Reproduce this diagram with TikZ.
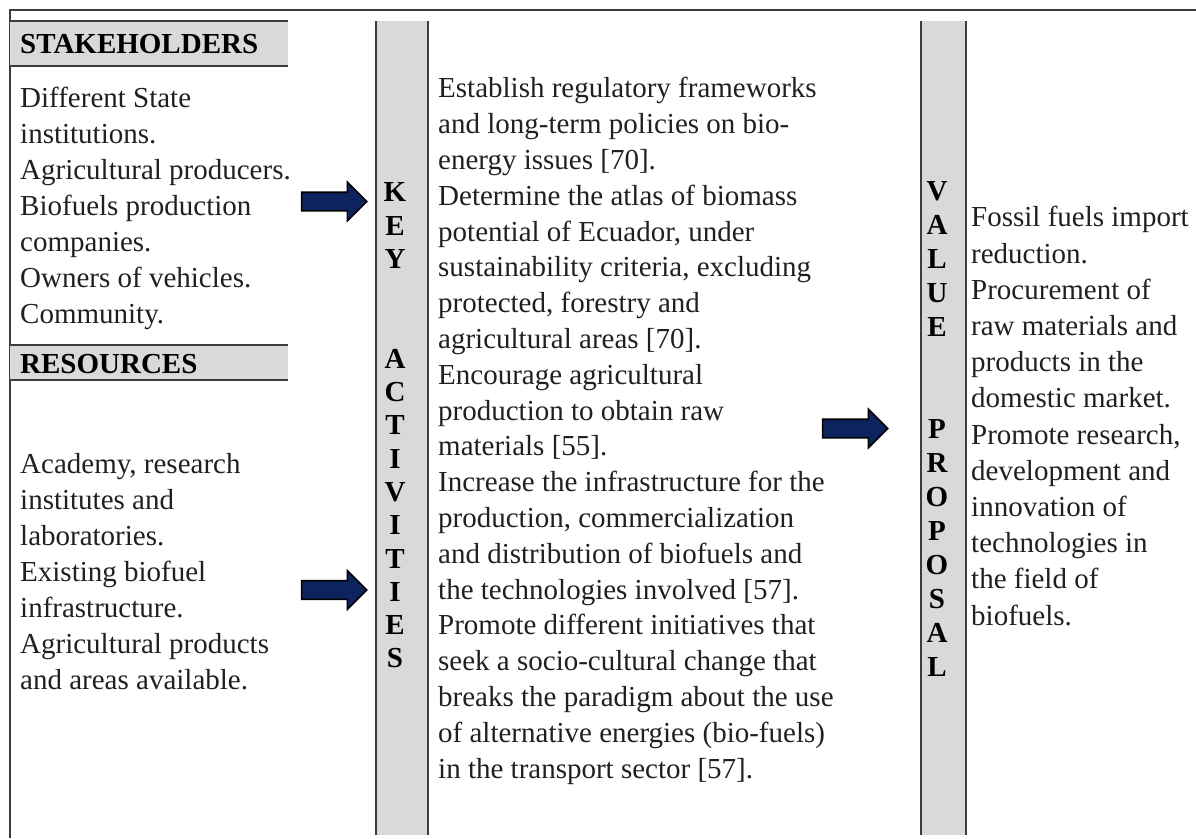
\documentclass[tikz,border=0pt]{standalone}
\usepackage{fontspec}
\setmainfont{Liberation Serif}
\usetikzlibrary{shapes.arrows}

\definecolor{navy}{RGB}{13,35,94}
\definecolor{panel}{RGB}{217,217,217}
\definecolor{rule}{RGB}{60,60,60}
\definecolor{ink}{RGB}{35,31,32}

\tikzset{
  % multi-line nodes: the base anchor sits on the last line
  body/.style={font=\fontsize{29}{36}\selectfont, text=ink, align=left,
    inner sep=0pt, anchor=base west},
  heading/.style={font=\bfseries\fontsize{29}{36}\selectfont, inner sep=0pt,
    anchor=base west},
  barletter/.style={font=\bfseries\fontsize{29}{33}\selectfont, inner sep=0pt,
    anchor=base},
  blockarrow/.style={single arrow, draw=black, line width=1.6pt, fill=navy,
    inner xsep=0pt, inner ysep=8.5pt, minimum height=65pt,
    single arrow head extend=10pt},
  frame/.style={draw=rule, line width=1.5pt}
}

\begin{document}
\begin{tikzpicture}[x=1pt, y=-1pt]
    \useasboundingbox (0,0) rectangle (1196,838);
    % outer frame (top and left only)
    \draw[frame] (1196,10) -- (10,10) -- (10,838);

    % grey header strips
    \fill[panel] (10,21) rectangle (288,66);
    \draw[frame] (10,21) -- (288,21) (10,66) -- (288,66);
    \fill[panel] (10,345) rectangle (288,380);
    \draw[frame] (10,345) -- (288,345) (10,380) -- (288,380);

    % vertical grey bars
    \fill[panel] (376,21) rectangle (428,835);
    \draw[frame] (376,21) -- (376,835) (428,21) -- (428,835);
    \fill[panel] (921,21) rectangle (966,835);
    \draw[frame] (921,21) -- (921,835) (966,21) -- (966,835);

    % left column
    \node[heading] (stakehead) at (20,53) {STAKEHOLDERS};
    \node[body] (stakeholders) at (20,323) {Different State\\institutions.\\Agricultural producers.\\Biofuels production\\companies.\\Owners of vehicles.\\Community.};
    \node[heading] (reshead) at (20,373) {RESOURCES};
    \node[body] (resources) at (20,689) {Academy, research\\institutes and\\laboratories.\\Existing biofuel\\infrastructure.\\Agricultural products\\and areas available.};

    % bar captions, one letter per line
    \foreach \c [count=\i] in {K,E,Y,,,A,C,T,I,V,I,T,I,E,S}
        \node[barletter] (key-\i) at (395,{201.7+33.3*(\i-1)}) {\c};
    \foreach \c [count=\i] in {V,A,L,U,E,,,P,R,O,P,O,S,A,L}
        \node[barletter] (value-\i) at (937,{200.5+34*(\i-1)}) {\c};

    % middle and right columns
    \node[body, font=\fontsize{29}{35.8}\selectfont] (activities) at (438,778) {Establish regulatory frameworks\\and long-term policies on bio-\\energy issues [70].\\Determine the atlas of biomass\\potential of Ecuador, under\\sustainability criteria, excluding\\protected, forestry and\\agricultural areas [70].\\Encourage agricultural\\production to obtain raw\\materials [55].\\Increase the infrastructure for the\\production, commercialization\\and distribution of biofuels and\\the technologies involved [57].\\Promote different initiatives that\\seek a socio-cultural change that\\breaks the paradigm about the use\\of alternative energies (bio-fuels)\\in the transport sector [57].};
    \node[body, font=\fontsize{29}{36.2}\selectfont] (proposal) at (971,625) {Fossil fuels import\\reduction.\\Procurement of\\raw materials and\\products in the\\domestic market.\\Promote research,\\development and\\innovation of\\technologies in\\the field of\\biofuels.};

    % block arrows
    \node[blockarrow] (arrstake) at (329.5,201.5) {};
    \node[blockarrow] (arrres) at (329.5,590) {};
    \node[blockarrow] (arrkey) at (850.5,428.5) {};
\end{tikzpicture}
\end{document}
